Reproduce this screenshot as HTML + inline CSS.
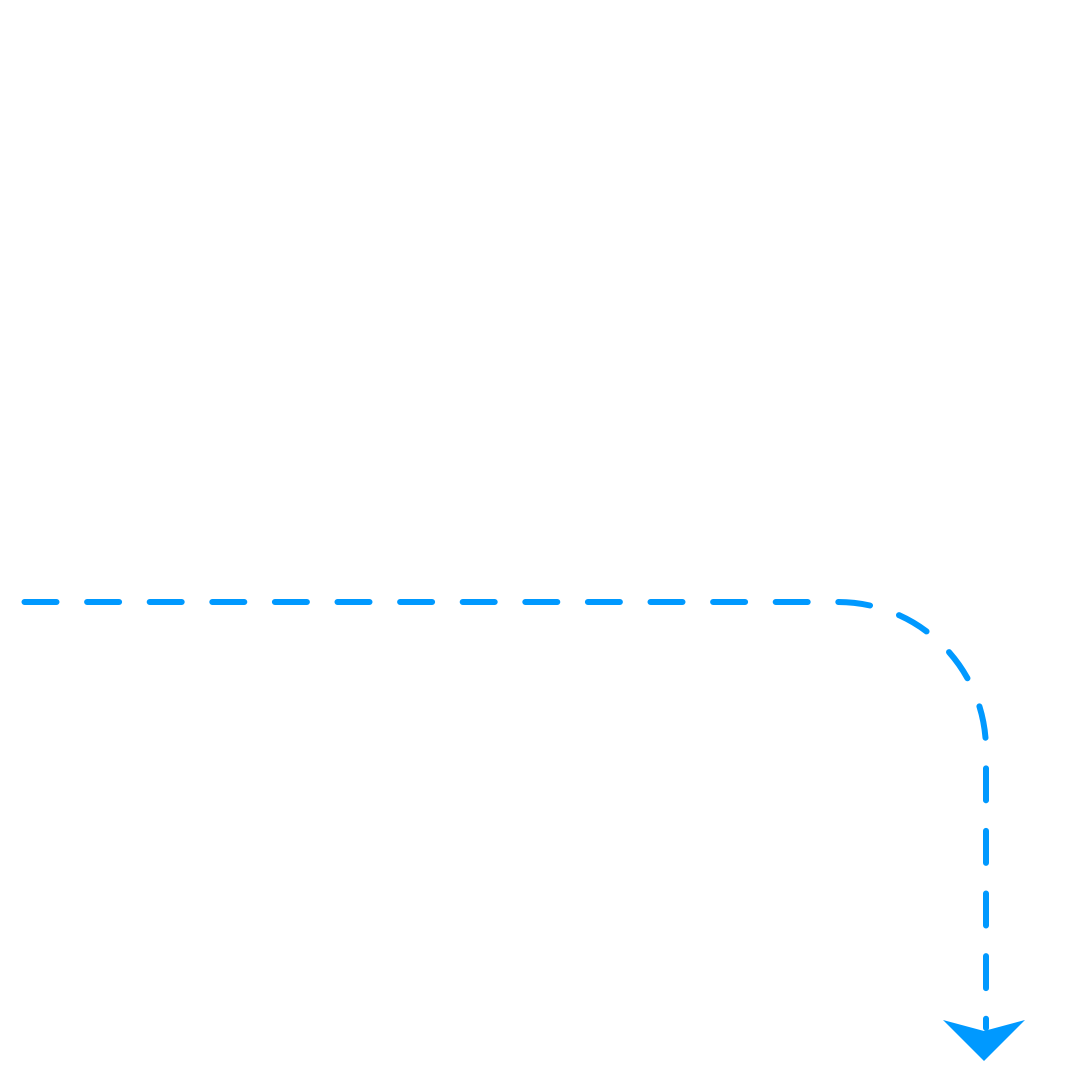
<!DOCTYPE html>
<html><head><meta charset="utf-8"><style>html,body{margin:0;padding:0;background:#fff}</style></head>
<body>
<svg width="1067" height="1067" viewBox="0 0 1067 1067" xmlns="http://www.w3.org/2000/svg">
<path d="M24 602 H838 A148 148 0 0 1 986 750 V1028" fill="none" stroke="#0099ff" stroke-width="6" stroke-linecap="round" stroke-dasharray="32 30.6" stroke-dashoffset="-0.5"/>
<polygon points="943,1020 984,1031 1025,1020 984,1061" fill="#0099ff"/>
</svg>
</body></html>
